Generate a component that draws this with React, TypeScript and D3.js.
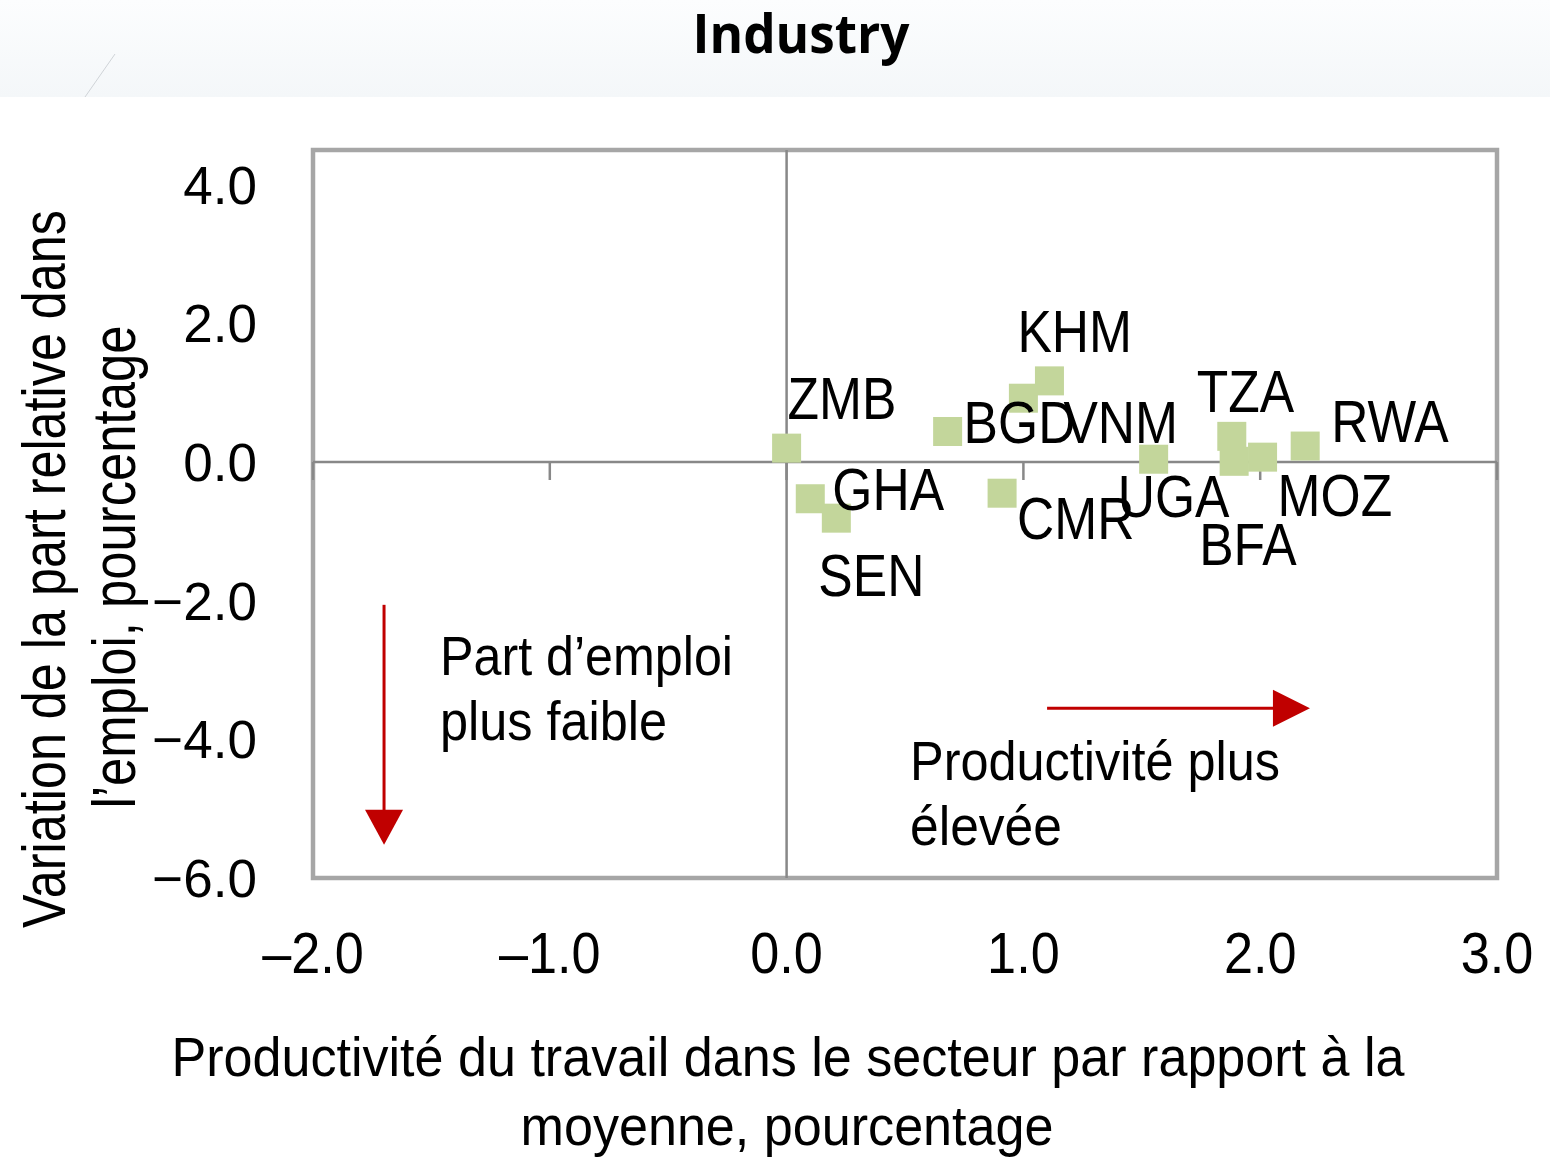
import React from 'react';
import * as d3 from 'd3';

// Country codes and their (productivity, employment share change) pairs
const countries = ['ZMB', 'GHA', 'SEN', 'BGD', 'VNM', 'KHM', 'CMR', 'UGA', 'TZA', 'BFA', 'MOZ', 'RWA'];
const productivity = [0.0, 0.1, 0.21, 0.68, 1.0, 1.11, 0.91, 1.55, 1.88, 1.89, 2.01, 2.19];
const shareChange = [0.2, -0.53, -0.81, 0.44, 0.92, 1.17, -0.45, 0.04, 0.37, 0.01, 0.07, 0.23];

const xTicks = [-2, -1, 0, 1, 2, 3];
const yTicks = [4, 2, 0, -2, -4, -6];

// label placement relative to each square (px)
const labelOffsets: Record<string, [number, number]> = {
  ZMB: [1, -29],
  GHA: [22, 11],
  SEN: [-18, 78],
  BGD: [16, 12],
  VNM: [40, 45],
  KHM: [-32, -29],
  CMR: [15, 46],
  UGA: [-36, 58],
  TZA: [-35, -24],
  BFA: [-35, 104],
  MOZ: [15, 59],
  RWA: [26, -4],
};

const W = 1550;
const H = 1157;
const plot = { left: 313, right: 1497, top: 150, bottom: 878 };
const FONT = '"Liberation Sans", Arial, sans-serif';
const RED = '#c00000';
const fmt = (v: number) => (v < 0 ? '\u2013' : '') + Math.abs(v).toFixed(1);

const App: React.FC = () => {
  const x = d3.scaleLinear().domain([-2, 3]).range([plot.left, plot.right]);
  const y = d3.scaleLinear().domain([-6, 4.5]).range([plot.bottom, plot.top]);
  const sq = 29;

  // annotation arrows in data units
  const vArrow = { x: -1.7, y0: -2.06, y1: -5.52 };
  const hArrow = { y: -3.55, x0: 1.1, x1: 2.21 };
  const vx = x(vArrow.x), vy0 = y(vArrow.y0), vy1 = y(vArrow.y1);
  const hy = y(hArrow.y), hx0 = x(hArrow.x0), hx1 = x(hArrow.x1);

  return (
    <div style={{ position: 'absolute', left: 0, top: 0 }}>
      <svg width={W} height={H} style={{ display: 'block', background: '#fff' }}>
        <defs>
          <linearGradient id="band" x1="0" y1="0" x2="0" y2="1">
            <stop offset="0" stopColor="#fcfdfe" />
            <stop offset="1" stopColor="#f4f7f9" />
          </linearGradient>
        </defs>
        <rect x={0} y={0} width={W} height={97} fill="url(#band)" />
        <line x1={115} y1={54} x2={85} y2={97} stroke="#d0d4d8" strokeWidth={1} />
        <text
          x={801}
          y={53}
          textAnchor="middle"
          textLength={217}
          lengthAdjust="spacingAndGlyphs"
          style={{ font: `700 53px "Open Sans", sans-serif` }}
          fill="#000"
        >
          Industry
        </text>

        {/* plot frame */}
        <rect
          x={plot.left}
          y={plot.top}
          width={plot.right - plot.left}
          height={plot.bottom - plot.top}
          fill="#fff"
          stroke="#a6a6a6"
          strokeWidth={4.5}
        />

        {/* zero lines */}
        <line x1={plot.left} x2={plot.right} y1={y(0)} y2={y(0)} stroke="#888" strokeWidth={2.5} />
        <line x1={x(0)} x2={x(0)} y1={plot.top} y2={plot.bottom} stroke="#888" strokeWidth={2.5} />
        {xTicks.map(t => (
          <line key={`tk${t}`} x1={x(t)} x2={x(t)} y1={y(0)} y2={y(0) + 18} stroke="#888" strokeWidth={2.5} />
        ))}

        {/* y tick labels */}
        <g style={{ font: `53px ${FONT}` }} fill="#000">
          {yTicks.map(t => (
            <text key={`yl${t}`} x={257} y={y(t)} dy="0.36em" textAnchor="end">
              {t < 0 ? '\u2212' + Math.abs(t).toFixed(1) : t.toFixed(1)}
            </text>
          ))}
        </g>

        {/* x tick labels */}
        <g style={{ font: `58px ${FONT}` }} fill="#000">
          {xTicks.map(t => (
            <text key={`xl${t}`} transform={`translate(${x(t)},973) scale(0.9,1)`} textAnchor="middle">
              {fmt(t)}
            </text>
          ))}
        </g>

        {/* axis titles */}
        <g style={{ font: `62px ${FONT}` }} fill="#000">
          <text
            transform="translate(65,569) rotate(-90)"
            textAnchor="middle"
            textLength={718}
            lengthAdjust="spacingAndGlyphs"
          >
            Variation de la part relative dans
          </text>
          <text
            transform="translate(135,567) rotate(-90)"
            textAnchor="middle"
            textLength={483}
            lengthAdjust="spacingAndGlyphs"
          >
            l’emploi, pourcentage
          </text>
        </g>
        <g style={{ font: `56px ${FONT}` }} fill="#000">
          <text x={788} y={1076} textAnchor="middle" textLength={1233} lengthAdjust="spacingAndGlyphs">
            Productivité du travail dans le secteur par rapport à la
          </text>
          <text x={787} y={1145} textAnchor="middle" textLength={533} lengthAdjust="spacingAndGlyphs">
            moyenne, pourcentage
          </text>
        </g>

        {/* points */}
        {countries.map((c, i) => (
          <rect
            key={c}
            x={x(productivity[i]) - sq / 2}
            y={y(shareChange[i]) - sq / 2}
            width={sq}
            height={sq}
            fill="#c3d69b"
          />
        ))}
        <g style={{ font: `60px ${FONT}` }} fill="#000">
          {countries.map((c, i) => {
            const [dx, dy] = labelOffsets[c];
            return (
              <text key={`lb${c}`} transform={`translate(${x(productivity[i]) + dx},${y(shareChange[i]) + dy}) scale(0.86,1)`}>
                {c}
              </text>
            );
          })}
        </g>

        {/* annotations */}
        <line x1={vx} x2={vx} y1={vy0} y2={vy1 - 30} stroke={RED} strokeWidth={3} />
        <path d={`M${vx - 19},${vy1 - 35} L${vx + 19},${vy1 - 35} L${vx},${vy1} Z`} fill={RED} />
        <line x1={hx0} x2={hx1 - 30} y1={hy} y2={hy} stroke={RED} strokeWidth={3} />
        <path d={`M${hx1 - 37},${hy - 18.5} L${hx1 - 37},${hy + 18.5} L${hx1},${hy} Z`} fill={RED} />

        <g style={{ font: `56px ${FONT}` }} fill="#000">
          <text x={440} y={675} textLength={293} lengthAdjust="spacingAndGlyphs">Part d’emploi</text>
          <text x={440} y={740} textLength={227} lengthAdjust="spacingAndGlyphs">plus faible</text>
          <text x={910} y={780} textLength={370} lengthAdjust="spacingAndGlyphs">Productivité plus</text>
          <text x={910} y={845} textLength={152} lengthAdjust="spacingAndGlyphs">élevée</text>
        </g>
      </svg>
    </div>
  );
};

export default App;
